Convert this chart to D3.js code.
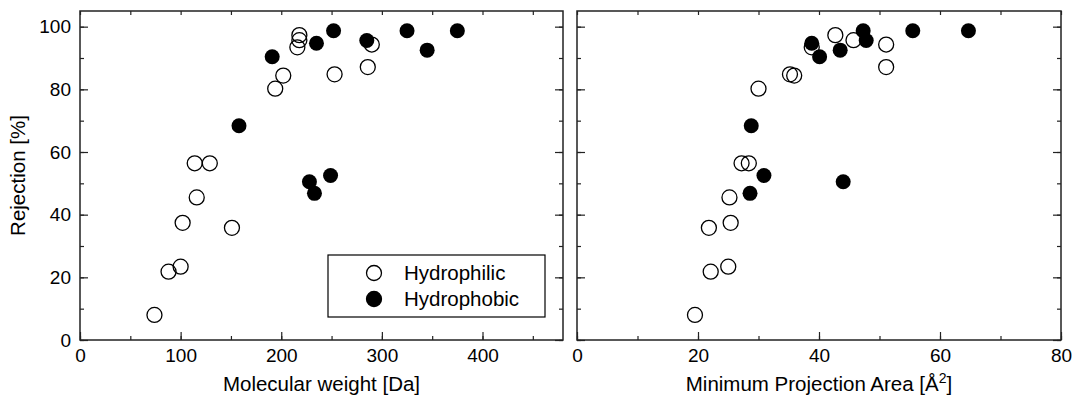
<!DOCTYPE html>
<html>
<head>
<meta charset="utf-8">
<script src="https://cdn.jsdelivr.net/npm/d3@7"></script>
<style>
  body { margin: 0; background: #fff; }
  text { font-family: "Liberation Sans", Arial, sans-serif; fill: #000; }
</style>
</head>
<body>
<svg id="chart" width="1079" height="406"></svg>
<script>
// hydrophilic solutes: molecular weight [Da], min projection area [A^2], rejection [%]
const philicMW   = [74, 88, 100, 102, 114, 116, 129, 151, 194, 202, 216, 218, 218, 253, 286, 290];
const philicMPA  = [19.5, 22.1, 25.0, 25.4, 27.2, 25.2, 28.4, 21.8, 30.0, 35.9, 38.8, 45.7, 42.7, 35.2, 51.1, 51.1];
const philicRej  = [8.0, 21.8, 23.4, 37.4, 56.4, 45.5, 56.4, 35.8, 80.2, 84.4, 93.4, 95.7, 97.3, 84.8, 87.1, 94.3];

// hydrophobic solutes
const phobicMW   = [158, 191, 228, 233, 235, 249, 252, 285, 325, 345, 375];
const phobicMPA  = [28.8, 40.1, 44.0, 28.6, 38.8, 30.9, 47.3, 47.8, 55.5, 43.5, 64.7];
const phobicRej  = [68.4, 90.4, 50.5, 46.8, 94.7, 52.5, 98.7, 95.6, 98.7, 92.5, 98.7];

const mwTicks  = [0, 100, 200, 300, 400];
const mpaTicks = [0, 20, 40, 60, 80];
const rejTicks = [0, 20, 40, 60, 80, 100];

const svg = d3.select("#chart");
const yTop = 11, yBottom = 340;
const y = d3.scaleLinear().domain([0, 105]).range([yBottom, yTop]);

function panel(x0, x1, xDomain, majors, minorStep, xs, ys, xsB, ysB, title, showY) {
  const x = d3.scaleLinear().domain(xDomain).range([x0, x1]);
  const g = svg.append("g");
  const minorX = d3.range(xDomain[0], xDomain[1] + 0.001, minorStep);
  const minorY = d3.range(0, 101, 10);

  // frame
  g.append("rect")
      .attr("x", x0).attr("y", yTop)
      .attr("width", x1 - x0).attr("height", yBottom - yTop)
      .attr("fill", "none").attr("stroke", "#222").attr("stroke-width", 1.5);

  // bottom axis, inward ticks
  g.append("g").attr("transform", "translate(0," + yBottom + ")")
      .call(d3.axisBottom(x).tickValues(minorX).tickSize(-4).tickFormat(""));
  g.append("g").attr("class", "xlab").attr("transform", "translate(0," + yBottom + ")")
      .call(d3.axisBottom(x).tickValues(majors).tickSize(-8).tickPadding(9).tickFormat(d3.format("d")));
  // top axis
  g.append("g").attr("transform", "translate(0," + yTop + ")")
      .call(d3.axisTop(x).tickValues(minorX).tickSize(-4).tickFormat(""));
  // left axis
  g.append("g").attr("transform", "translate(" + x0 + ",0)")
      .call(d3.axisLeft(y).tickValues(minorY).tickSize(-4).tickFormat(""));
  g.append("g").attr("class", "ylab").attr("transform", "translate(" + x0 + ",0)")
      .call(d3.axisLeft(y).tickValues(rejTicks).tickSize(-8).tickPadding(9)
        .tickFormat(showY ? d3.format("d") : ""));
  // right axis
  g.append("g").attr("transform", "translate(" + x1 + ",0)")
      .call(d3.axisRight(y).tickValues(minorY).tickSize(-4).tickFormat(""));
  g.append("g").attr("transform", "translate(" + x1 + ",0)")
      .call(d3.axisRight(y).tickValues(rejTicks).tickSize(-8).tickFormat(""));

  g.selectAll(".domain").remove();
  g.selectAll(".tick line").attr("stroke", "#222").attr("stroke-width", 1.2);
  g.selectAll(".tick text").style("font-size", "19px")
      .style("font-family", "'Liberation Sans', Arial, sans-serif").attr("fill", "#000");

  // points: hydrophilic open, hydrophobic filled
  g.append("g").selectAll("circle")
    .data(xs.map((v, i) => [v, ys[i]]))
    .join("circle")
      .attr("cx", d => x(d[0])).attr("cy", d => y(d[1])).attr("r", 7.5)
      .attr("fill", "none").attr("stroke", "#000").attr("stroke-width", 1.3);
  g.append("g").selectAll("circle")
    .data(xsB.map((v, i) => [v, ysB[i]]))
    .join("circle")
      .attr("cx", d => x(d[0])).attr("cy", d => y(d[1])).attr("r", 7.5)
      .attr("fill", "#000");

  // x title
  const t = g.append("text")
      .attr("x", (x0 + x1) / 2).attr("y", 391)
      .attr("text-anchor", "middle")
      .style("font-size", "20.5px");
  title(t);
  return x;
}

panel(80, 563, [0, 480], mwTicks, 50, philicMW, philicRej, phobicMW, phobicRej,
  t => t.text("Molecular weight [Da]"), true);

panel(577, 1061, [0, 80], mpaTicks, 10, philicMPA, philicRej, phobicMPA, phobicRej,
  t => {
    t.append("tspan").text("Minimum Projection Area [Å");
    t.append("tspan").attr("dy", -8).style("font-size", "14px").text("2");
    t.append("tspan").attr("dy", 8).text("]");
  }, false);

// y title
svg.append("text")
    .attr("transform", "translate(25," + ((yTop + yBottom) / 2) + ") rotate(-90)")
    .attr("text-anchor", "middle")
    .style("font-size", "20.5px")
    .text("Rejection [%]");

// legend
const leg = svg.append("g");
leg.append("rect")
    .attr("x", 328).attr("y", 255).attr("width", 217).attr("height", 62)
    .attr("fill", "#fff").attr("stroke", "#000").attr("stroke-width", 1.2);
const legItems = [["Hydrophilic", "none"], ["Hydrophobic", "#000"]];
legItems.forEach((d, i) => {
  const cy = 273 + i * 26;
  leg.append("circle").attr("cx", 374).attr("cy", cy).attr("r", 7.5)
      .attr("fill", d[1]).attr("stroke", "#000").attr("stroke-width", 1.3);
  leg.append("text").attr("x", 404).attr("y", cy).attr("dy", "0.36em")
      .style("font-size", "20.5px").text(d[0]);
});
</script>
</body>
</html>
